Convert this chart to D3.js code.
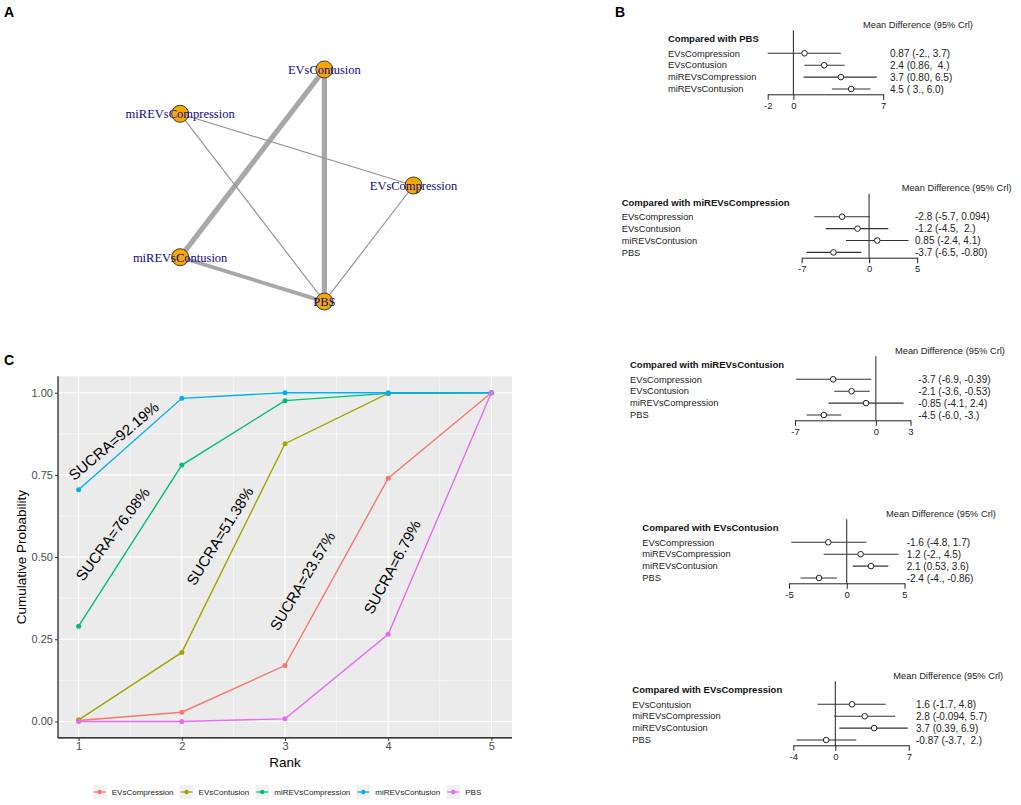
<!DOCTYPE html>
<html>
<head>
<meta charset="utf-8">
<script src="https://cdn.jsdelivr.net/npm/d3@7"></script>
<style>
  body { margin: 0; background: #fff; }
  text { font-family: Arial, "Liberation Sans", sans-serif; }
</style>
</head>
<body>
<svg id="fig" width="1021" height="805"></svg>
<script>
// ---- data ----

// A : network of treatments (circle layout, one node every 72 deg)
const treatments = ['EVsCompression', 'EVsContusion', 'miREVsCompression', 'miREVsContusion', 'PBS'];
const edgeFrom = ['EVsContusion', 'EVsContusion', 'miREVsContusion', 'miREVsCompression', 'miREVsCompression', 'EVsCompression'];
const edgeTo = ['PBS', 'miREVsContusion', 'PBS', 'EVsCompression', 'PBS', 'PBS'];
const edgeStudies = [4, 4, 3, 1, 1, 1];

// B : forest plots, one block per reference
const forestRefs = ['PBS', 'miREVsCompression', 'miREVsContusion', 'EVsContusion', 'EVsCompression'];
const forestLabels = [
  ['EVsCompression', 'EVsContusion', 'miREVsCompression', 'miREVsContusion'],
  ['EVsCompression', 'EVsContusion', 'miREVsContusion', 'PBS'],
  ['EVsCompression', 'EVsContusion', 'miREVsCompression', 'PBS'],
  ['EVsCompression', 'miREVsCompression', 'miREVsContusion', 'PBS'],
  ['EVsContusion', 'miREVsCompression', 'miREVsContusion', 'PBS']
];
const forestMean = [
  [0.87, 2.4, 3.7, 4.5],
  [-2.8, -1.2, 0.85, -3.7],
  [-3.7, -2.1, -0.85, -4.5],
  [-1.6, 1.2, 2.1, -2.4],
  [1.6, 2.8, 3.7, -0.87]
];
const forestLow = [
  [-2.0, 0.86, 0.80, 3.0],
  [-5.7, -4.5, -2.4, -6.5],
  [-6.9, -3.6, -4.1, -6.0],
  [-4.8, -2.0, 0.53, -4.0],
  [-1.7, -0.094, 0.39, -3.7]
];
const forestHigh = [
  [3.7, 4.0, 6.5, 6.0],
  [0.094, 2.0, 4.1, -0.80],
  [-0.39, -0.53, 2.4, -3.0],
  [1.7, 4.5, 3.6, -0.86],
  [4.8, 5.7, 6.9, 2.0]
];
const forestText = [
  ['0.87 (-2., 3.7)', '2.4 (0.86,  4.)', '3.7 (0.80, 6.5)', '4.5 ( 3., 6.0)'],
  ['-2.8 (-5.7, 0.094)', '-1.2 (-4.5,  2.)', '0.85 (-2.4, 4.1)', '-3.7 (-6.5, -0.80)'],
  ['-3.7 (-6.9, -0.39)', '-2.1 (-3.6, -0.53)', '-0.85 (-4.1, 2.4)', '-4.5 (-6.0, -3.)'],
  ['-1.6 (-4.8, 1.7)', '1.2 (-2., 4.5)', '2.1 (0.53, 3.6)', '-2.4 (-4., -0.86)'],
  ['1.6 (-1.7, 4.8)', '2.8 (-0.094, 5.7)', '3.7 (0.39, 6.9)', '-0.87 (-3.7,  2.)']
];
const forestTicks = [[-2, 0, 7], [-7, 0, 5], [-7, 0, 3], [-5, 0, 5], [-4, 0, 7]];

// C : cumulative ranking curves
const ranks = [1, 2, 3, 4, 5];
const cumEVsCompression = [0.003, 0.028, 0.17, 0.74, 1.0];
const cumEVsContusion = [0.005, 0.21, 0.845, 0.998, 1.0];
const cumMiREVsCompression = [0.29, 0.78, 0.976, 0.998, 1.0];
const cumMiREVsContusion = [0.705, 0.983, 1.0, 1.0, 1.0];
const cumPBS = [0.0, 0.0, 0.008, 0.265, 1.0];
const yTicks = [0, 0.25, 0.5, 0.75, 1];
const sucraText = ['SUCRA=92.19%', 'SUCRA=76.08%', 'SUCRA=51.38%', 'SUCRA=23.57%', 'SUCRA=6.79%'];
const sucraX = [1.34, 1.33, 2.37, 3.17, 4.04];
const sucraY = [0.853, 0.57, 0.564, 0.427, 0.47];
const sucraAngle = [-40, -53, -58, -59, -62];

const colors = ['#F8766D', '#A3A500', '#00BF7D', '#00B0F6', '#E76BF3'];

const svg = d3.select('#fig');
svg.append('rect').attr('width', 1021).attr('height', 805).attr('fill', '#fff');

// panel letters
[['A', 4, 17], ['B', 615, 17], ['C', 4, 365]].forEach(p => {
  svg.append('text').attr('x', p[1]).attr('y', p[2])
    .attr('font-size', 14).attr('font-weight', 'bold').text(p[0]);
});

/* ---------------- A : network ---------------- */
const netX = d3.scaleLinear().domain([-1, 1]).range([155.5, 413.5]);
const netY = d3.scaleLinear().domain([-1, 1]).range([307.5, 63.5]);
const nodePos = {};
treatments.forEach((t, i) => {
  const a = i * 2 * Math.PI / treatments.length;
  nodePos[t] = [netX(Math.cos(a)), netY(Math.sin(a))];
});
const edgeW = d3.scaleLinear().domain([1, 4]).range([1.2, 5.2]);

const gA = svg.append('g');
gA.selectAll('line.edge')
  .data(edgeFrom.map((f, i) => ({ from: f, to: edgeTo[i], n: edgeStudies[i] })))
  .enter().append('line')
  .attr('class', 'edge')
  .attr('x1', d => nodePos[d.from][0]).attr('y1', d => nodePos[d.from][1])
  .attr('x2', d => nodePos[d.to][0]).attr('y2', d => nodePos[d.to][1])
  .attr('stroke', d => d.n > 1 ? '#a8a8a8' : '#959595')
  .attr('stroke-width', d => edgeW(d.n));

gA.selectAll('circle.node').data(treatments).enter().append('circle')
  .attr('cx', d => nodePos[d][0]).attr('cy', d => nodePos[d][1])
  .attr('r', 8.5).attr('fill', '#F6A800').attr('stroke', '#3a3a3a').attr('stroke-width', 1);

gA.selectAll('text.lab').data(treatments).enter().append('text')
  .attr('x', d => nodePos[d][0]).attr('y', d => nodePos[d][1] + 4.5)
  .attr('text-anchor', 'middle')
  .style('font-family', '"Liberation Serif", "DejaVu Serif", serif')
  .attr('font-size', 12.5).attr('fill', '#0a0a8c')
  .text(d => d);

/* ---------------- B : forest plots ---------------- */
// layout of each block (label column, axis start, header and value columns, first row)
const blockLabelX = [668, 621.7, 630, 642.3, 632.3];
const blockAxisX = [767.7, 801.7, 795, 789, 793.3];
const blockMdX = [863, 901.7, 895, 886, 893.3];
const blockValX = [890, 915, 918.3, 906.7, 916];
const blockRow0 = [53.3, 216.7, 379.3, 542.3, 704.3];
const axisWidth = 115.5;
const rowStep = 11.9;

forestRefs.forEach((ref, b) => {
  const g = svg.append('g');
  const ticks = forestTicks[b];
  const x = d3.scaleLinear().domain([ticks[0], ticks[ticks.length - 1]])
    .range([blockAxisX[b], blockAxisX[b] + axisWidth]);
  const r0 = blockRow0[b];
  const rowY = i => r0 + i * rowStep;
  const axisY = r0 + 41;

  g.append('text').attr('x', blockMdX[b]).attr('y', r0 - 28.5).attr('dy', '0.35em')
    .attr('font-size', 9.3).attr('fill', '#222').text('Mean Difference (95% Crl)');
  g.append('text').attr('x', blockLabelX[b]).attr('y', r0 - 14.3).attr('dy', '0.35em')
    .attr('font-size', 9.5).attr('font-weight', 'bold').attr('fill', '#111')
    .text('Compared with ' + ref);

  // zero line
  g.append('line').attr('x1', x(0)).attr('x2', x(0))
    .attr('y1', r0 - 23).attr('y2', axisY)
    .attr('stroke', '#222').attr('stroke-width', 1);

  const rows = forestLabels[b].map((lab, i) => ({
    lab: lab, m: forestMean[b][i], lo: forestLow[b][i], hi: forestHigh[b][i], txt: forestText[b][i], i: i
  }));

  g.selectAll('text.rl').data(rows).enter().append('text')
    .attr('x', blockLabelX[b]).attr('y', d => rowY(d.i)).attr('dy', '0.35em')
    .attr('font-size', 9.3).attr('fill', '#222').text(d => d.lab);

  g.selectAll('line.ci').data(rows).enter().append('line')
    .attr('x1', d => x(d.lo)).attr('x2', d => x(d.hi))
    .attr('y1', d => rowY(d.i)).attr('y2', d => rowY(d.i))
    .attr('stroke', '#333').attr('stroke-width', 1.1);

  g.selectAll('circle.pt').data(rows).enter().append('circle')
    .attr('cx', d => x(d.m)).attr('cy', d => rowY(d.i)).attr('r', 2.8)
    .attr('fill', '#fff').attr('stroke', '#222').attr('stroke-width', 1);

  g.selectAll('text.val').data(rows).enter().append('text')
    .attr('x', blockValX[b]).attr('y', d => rowY(d.i)).attr('dy', '0.35em')
    .attr('font-size', 10).attr('fill', '#222').style('white-space', 'pre')
    .text(d => d.txt);

  // axis with ticks only at the given values
  const ax = g.append('g').attr('transform', `translate(0,${axisY})`)
    .call(d3.axisBottom(x).tickValues(ticks).tickFormat(d3.format('d')).tickSize(5.5).tickSizeOuter(0));
  ax.select('.domain').attr('stroke', '#222');
  ax.selectAll('.tick line').attr('stroke', '#222');
  ax.selectAll('.tick text').attr('font-size', 9.5).attr('fill', '#222').attr('y', 7.5)
    .text(d => d < 0 ? '-' + Math.abs(d) : d);
});

/* ---------------- C : cumulative ranking ---------------- */
const series = [cumEVsCompression, cumEVsContusion, cumMiREVsCompression, cumMiREVsContusion, cumPBS];
const pL = 58, pR = 512, pT = 376.3, pB = 737.9;
const x = d3.scaleLinear().domain([0.8, 5.2]).range([pL, pR]);
const y = d3.scaleLinear().domain([-0.05, 1.05]).range([pB, pT]);

const gC = svg.append('g');
gC.append('rect').attr('x', pL).attr('y', pT).attr('width', pR - pL).attr('height', pB - pT)
  .attr('fill', '#EBEBEB');

// minor grid
const xMinor = [1.5, 2.5, 3.5, 4.5];
const yMinor = [0.125, 0.375, 0.625, 0.875];
gC.selectAll('line.xmin').data(xMinor).enter().append('line')
  .attr('x1', d => x(d)).attr('x2', d => x(d)).attr('y1', pT).attr('y2', pB)
  .attr('stroke', '#fff').attr('stroke-width', 0.5);
gC.selectAll('line.ymin').data(yMinor).enter().append('line')
  .attr('y1', d => y(d)).attr('y2', d => y(d)).attr('x1', pL).attr('x2', pR)
  .attr('stroke', '#fff').attr('stroke-width', 0.5);
// major grid
gC.selectAll('line.xmaj').data(ranks).enter().append('line')
  .attr('x1', d => x(d)).attr('x2', d => x(d)).attr('y1', pT).attr('y2', pB)
  .attr('stroke', '#fff').attr('stroke-width', 1.1);
gC.selectAll('line.ymaj').data(yTicks).enter().append('line')
  .attr('y1', d => y(d)).attr('y2', d => y(d)).attr('x1', pL).attr('x2', pR)
  .attr('stroke', '#fff').attr('stroke-width', 1.1);

// lines + points
const line = d3.line().x((d, i) => x(ranks[i])).y(d => y(d));
series.forEach((s, k) => {
  gC.append('path').datum(s).attr('d', line)
    .attr('fill', 'none').attr('stroke', colors[k]).attr('stroke-width', 1.4);
  gC.selectAll(null).data(s).enter().append('circle')
    .attr('cx', (d, i) => x(ranks[i])).attr('cy', d => y(d)).attr('r', 2.5)
    .attr('fill', colors[k]);
});

// SUCRA annotations
sucraText.forEach((t, i) => {
  gC.append('text')
    .attr('transform', `translate(${x(sucraX[i])},${y(sucraY[i])}) rotate(${sucraAngle[i]})`)
    .attr('text-anchor', 'middle').attr('dy', '0.35em')
    .attr('font-size', 15).attr('fill', '#000').text(t);
});

// axes
const axY = gC.append('g').attr('transform', `translate(${pL},0)`)
  .call(d3.axisLeft(y).tickValues(yTicks).tickFormat(d3.format('.2f')).tickSize(3).tickSizeOuter(0));
axY.select('.domain').attr('stroke', '#000').attr('stroke-width', 1.1).attr('d', `M0,${pT}V${pB}`);
axY.selectAll('.tick line').attr('stroke', '#333');
axY.selectAll('.tick text').attr('font-size', 11).attr('fill', '#4D4D4D').attr('x', -5);

const axX = gC.append('g').attr('transform', `translate(0,${pB})`)
  .call(d3.axisBottom(x).tickValues(ranks).tickFormat(d3.format('d')).tickSize(3).tickSizeOuter(0));
axX.select('.domain').attr('stroke', '#000').attr('stroke-width', 1.1).attr('d', `M${pL},0H${pR}`);
axX.selectAll('.tick line').attr('stroke', '#333');
axX.selectAll('.tick text').attr('font-size', 11).attr('fill', '#4D4D4D').attr('y', 4.5);

gC.append('text').attr('x', (pL + pR) / 2).attr('y', 762).attr('dy', '0.35em')
  .attr('text-anchor', 'middle').attr('font-size', 13.5).text('Rank');
gC.append('text').attr('transform', `translate(21,${(pT + pB) / 2}) rotate(-90)`)
  .attr('dy', '0.35em').attr('text-anchor', 'middle').attr('font-size', 13.5)
  .text('Cumulative Probability');

// legend
const leg = gC.append('g');
let lx = 0;
treatments.forEach((t, k) => {
  const it = leg.append('g').attr('transform', `translate(${lx},0)`);
  it.append('rect').attr('x', 0).attr('y', -7).attr('width', 14).attr('height', 14).attr('fill', '#F2F2F2');
  it.append('line').attr('x1', 1).attr('x2', 13).attr('y1', 0).attr('y2', 0)
    .attr('stroke', colors[k]).attr('stroke-width', 1.3);
  it.append('circle').attr('cx', 7).attr('cy', 0).attr('r', 2.2).attr('fill', colors[k]);
  const tx = it.append('text').attr('x', 19).attr('y', 0).attr('dy', '0.35em')
    .attr('font-size', 8).attr('fill', '#222').text(t);
  lx += 19 + tx.node().getComputedTextLength() + 6;
});
leg.attr('transform', `translate(${287 - (lx - 6) / 2},792)`);
</script>
</body>
</html>
